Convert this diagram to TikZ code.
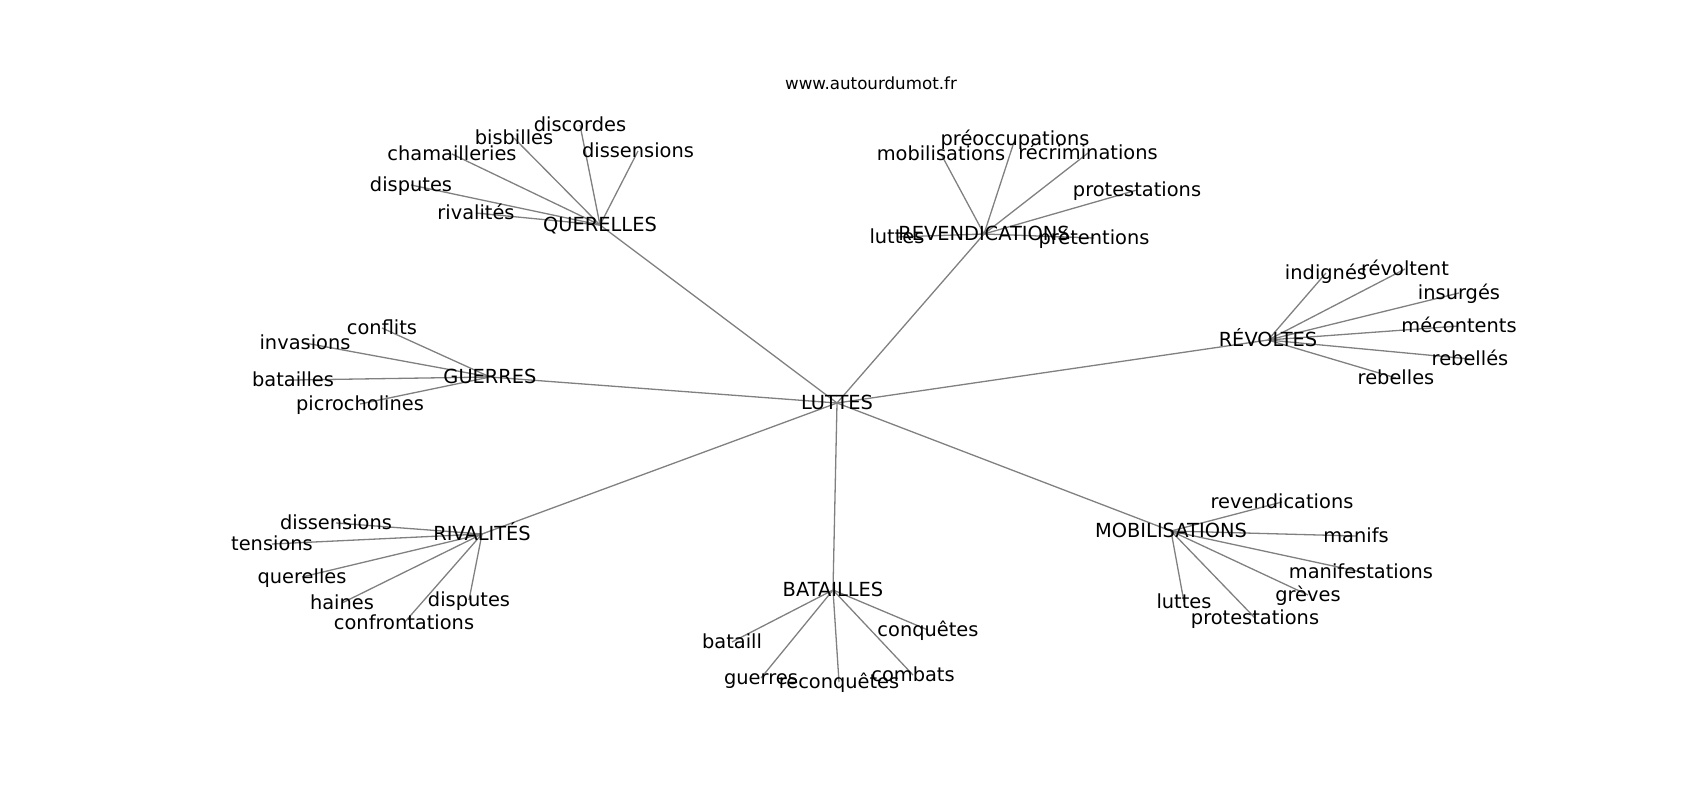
\documentclass[tikz,border=0pt]{standalone}
\usepackage{fontspec}
\setmainfont{DejaVu Sans}
\usetikzlibrary{backgrounds}

\begin{document}
\begin{tikzpicture}[x=1pt, y=-1pt,
    word/.style={inner sep=0pt, text height=16pt, text depth=2.8pt, font=\fontsize{19.4}{23}\selectfont},
    link/.style={color=gray, line width=1.3pt}]
            \useasboundingbox (0,0) rectangle (1700,800);
            \node (site) at (871,83) [inner sep=0pt, font=\fontsize{16.7}{20}\selectfont] {www.autourdumot.fr};
            \node[word] (luttes) at (837,403) {LUTTES};
            \node[word] (querelles) at (600,225) {QUERELLES};
            \node[word] (revend) at (984,234) {REVENDICATIONS};
            \node[word] (revoltes) at (1268,340) {RÉVOLTES};
            \node[word] (guerres) at (490,377) {GUERRES};
            \node[word] (rivalites) at (482,534) {RIVALITÉS};
            \node[word] (batailles) at (833,590) {BATAILLES};
            \node[word] (mobil) at (1171,531) {MOBILISATIONS};
            \node[word] (q-discordes) at (580,125) {discordes};
            \node[word] (q-bisbilles) at (514,138) {bisbilles};
            \node[word] (q-chamailleries) at (452,154) {chamailleries};
            \node[word] (q-disputes) at (411,185) {disputes};
            \node[word] (q-rivalites) at (476,213) {rivalités};
            \node[word] (q-dissensions) at (638,151) {dissensions};
            \node[word] (r-luttes) at (897,237) {luttes};
            \node[word] (r-pretentions) at (1094,238) {prétentions};
            \node[word] (r-protestations) at (1137,190) {protestations};
            \node[word] (r-recriminations) at (1088,153) {récriminations};
            \node[word] (r-preoccupations) at (1015,139) {préoccupations};
            \node[word] (r-mobilisations) at (941,154) {mobilisations};
            \node[word] (v-indignes) at (1326,273) {indignés};
            \node[word] (v-revoltent) at (1405,269) {révoltent};
            \node[word] (v-insurges) at (1459,293) {insurgés};
            \node[word] (v-mecontents) at (1459,326) {mécontents};
            \node[word] (v-rebelles-e) at (1470,359) {rebellés};
            \node[word] (v-rebelles) at (1396,378) {rebelles};
            \node[word] (g-conflits) at (382,328) {conflits};
            \node[word] (g-invasions) at (305,343) {invasions};
            \node[word] (g-batailles) at (293,380) {batailles};
            \node[word] (g-picrocholines) at (360,404) {picrocholines};
            \node[word] (i-dissensions) at (336,523) {dissensions};
            \node[word] (i-tensions) at (272,544) {tensions};
            \node[word] (i-querelles) at (302,577) {querelles};
            \node[word] (i-haines) at (342,603) {haines};
            \node[word] (i-confrontations) at (404,623) {confrontations};
            \node[word] (i-disputes) at (469,600) {disputes};
            \node[word] (m-revendications) at (1282,502) {revendications};
            \node[word] (m-manifs) at (1356,536) {manifs};
            \node[word] (m-manifestations) at (1361,572) {manifestations};
            \node[word] (m-greves) at (1308,595) {grèves};
            \node[word] (m-luttes) at (1184,602) {luttes};
            \node[word] (m-protestations) at (1255,618) {protestations};
            \node[word] (b-bataill) at (732,642) {bataill};
            \node[word] (b-guerres) at (761,678) {guerres};
            \node[word] (b-reconquetes) at (839,682) {reconquêtes};
            \node[word] (b-combats) at (913,675) {combats};
            \node[word] (b-conquetes) at (928,630) {conquêtes};
            \begin{scope}[on background layer]
            \draw [link] (luttes.center)--(querelles.center);
            \draw [link] (luttes.center)--(revend.center);
            \draw [link] (luttes.center)--(revoltes.center);
            \draw [link] (luttes.center)--(guerres.center);
            \draw [link] (luttes.center)--(rivalites.center);
            \draw [link] (luttes.center)--(batailles.center);
            \draw [link] (luttes.center)--(mobil.center);
            \draw [link] (querelles.center)--(q-discordes.center);
            \draw [link] (querelles.center)--(q-bisbilles.center);
            \draw [link] (querelles.center)--(q-chamailleries.center);
            \draw [link] (querelles.center)--(q-disputes.center);
            \draw [link] (querelles.center)--(q-rivalites.center);
            \draw [link] (querelles.center)--(q-dissensions.center);
            \draw [link] (revend.center)--(r-luttes.center);
            \draw [link] (revend.center)--(r-pretentions.center);
            \draw [link] (revend.center)--(r-protestations.center);
            \draw [link] (revend.center)--(r-recriminations.center);
            \draw [link] (revend.center)--(r-preoccupations.center);
            \draw [link] (revend.center)--(r-mobilisations.center);
            \draw [link] (revoltes.center)--(v-indignes.center);
            \draw [link] (revoltes.center)--(v-revoltent.center);
            \draw [link] (revoltes.center)--(v-insurges.center);
            \draw [link] (revoltes.center)--(v-mecontents.center);
            \draw [link] (revoltes.center)--(v-rebelles-e.center);
            \draw [link] (revoltes.center)--(v-rebelles.center);
            \draw [link] (guerres.center)--(g-conflits.center);
            \draw [link] (guerres.center)--(g-invasions.center);
            \draw [link] (guerres.center)--(g-batailles.center);
            \draw [link] (guerres.center)--(g-picrocholines.center);
            \draw [link] (rivalites.center)--(i-dissensions.center);
            \draw [link] (rivalites.center)--(i-tensions.center);
            \draw [link] (rivalites.center)--(i-querelles.center);
            \draw [link] (rivalites.center)--(i-haines.center);
            \draw [link] (rivalites.center)--(i-confrontations.center);
            \draw [link] (rivalites.center)--(i-disputes.center);
            \draw [link] (mobil.center)--(m-revendications.center);
            \draw [link] (mobil.center)--(m-manifs.center);
            \draw [link] (mobil.center)--(m-manifestations.center);
            \draw [link] (mobil.center)--(m-greves.center);
            \draw [link] (mobil.center)--(m-luttes.center);
            \draw [link] (mobil.center)--(m-protestations.center);
            \draw [link] (batailles.center)--(b-bataill.center);
            \draw [link] (batailles.center)--(b-guerres.center);
            \draw [link] (batailles.center)--(b-reconquetes.center);
            \draw [link] (batailles.center)--(b-combats.center);
            \draw [link] (batailles.center)--(b-conquetes.center);
            \end{scope}
        \end{tikzpicture}
\end{document}
